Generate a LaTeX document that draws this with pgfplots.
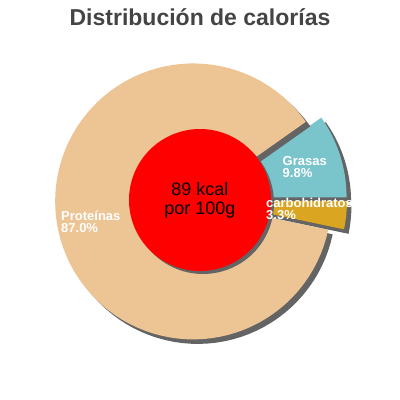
\documentclass[border=0pt]{standalone}
\usepackage{pgfplots}
\pgfplotsset{compat=1.18}
\usepackage{fontspec}
\setmainfont{Liberation Sans}

\definecolor{prot}{RGB}{237,196,148}
\definecolor{gras}{RGB}{122,196,204}
\definecolor{carb}{RGB}{218,165,32}
\definecolor{shad}{RGB}{100,100,100}
\definecolor{titlec}{RGB}{68,68,68}

% shares of the calories (%)
\def\vG{9.8}   % Grasas
\def\vP{87.0}  % Proteinas
\def\vC{3.3}   % carbohidratos
\pgfmathsetmacro\tot{\vG+\vP+\vC}
\pgfmathsetmacro\aG{\vG/\tot*360}
\pgfmathsetmacro\aP{\aG+\vP/\tot*360}
\def\R{138}
\def\so{4.5}
% slice centres, pushed out along the bisector
\pgfmathsetmacro\xG{200+9*cos(\aG/2)}
\pgfmathsetmacro\yG{200+9*sin(\aG/2)}
\pgfmathsetmacro\xP{200+7*cos((\aG+\aP)/2)}
\pgfmathsetmacro\yP{200+7*sin((\aG+\aP)/2)}
\pgfmathsetmacro\xC{200+9*cos((\aP+360)/2)}
\pgfmathsetmacro\yC{200+9*sin((\aP+360)/2)}
\pgfmathsetmacro\sxG{\xG+\so}\pgfmathsetmacro\syG{\yG-\so}
\pgfmathsetmacro\sxP{\xP+\so}\pgfmathsetmacro\syP{\yP-\so}
\pgfmathsetmacro\sxC{\xC+\so}\pgfmathsetmacro\syC{\yC-\so}

\newcommand\wedgeplot[5]{%
  \addplot[#5, draw=none, domain=#3:#4, samples=90, variable=\t]
    ({#1+\R*cos(\t)},{#2+\R*sin(\t)}) -- (axis cs:#1,#2) -- cycle;}

\tikzset{lab/.style={font=\fontsize{13}{13}\selectfont\bfseries, text=white, inner sep=0pt, anchor=base west}}

\begin{document}
\begin{tikzpicture}
\useasboundingbox (0,0) rectangle (400pt,400pt);
\begin{axis}[
    at={(0,0)}, anchor=south west,
    width=400pt, height=400pt, scale only axis,
    xmin=0, xmax=400, ymin=0, ymax=400,
    hide axis, clip=false,
]
% slices, each after its shadow
\wedgeplot{\sxG}{\syG}{0}{\aG}{fill=shad}
\wedgeplot{\xG}{\yG}{0}{\aG}{fill=gras}
\wedgeplot{\sxP}{\syP}{\aG}{\aP}{fill=shad}
\wedgeplot{\xP}{\yP}{\aG}{\aP}{fill=prot}
\wedgeplot{\sxC}{\syC}{\aP}{360}{fill=shad}
\wedgeplot{\xC}{\yC}{\aP}{360}{fill=carb}

% centre disc
\addplot[fill=shad, draw=none, domain=0:360, samples=120] ({203+71*cos(x)},{197+71*sin(x)}) -- cycle;
\addplot[fill=red, draw=none, domain=0:360, samples=120] ({200+71*cos(x)},{200+71*sin(x)}) -- cycle;

% labels
\node[lab] at (axis cs:61,179.5) {Proteínas};
\node[lab] at (axis cs:61,167.5) {87.0\%};
\node[lab] at (axis cs:282.5,234.8) {Grasas};
\node[lab] at (axis cs:282.5,222.8) {9.8\%};
\node[lab] at (axis cs:266,192.2) {carbohidratos};
\node[lab] at (axis cs:266,180.5) {3.3\%};

\node[anchor=base, inner sep=0pt, text=black, font=\fontsize{18}{18}\selectfont] at (axis cs:200,204.3) {89 kcal};
\node[anchor=base, inner sep=0pt, text=black, font=\fontsize{18}{18}\selectfont] at (axis cs:200,185) {por 100g};

\node[anchor=base, inner sep=0pt, text=titlec, font=\fontsize{23}{23}\selectfont\bfseries] at (axis cs:200,374) {Distribución de calorías};
\end{axis}
\end{tikzpicture}
\end{document}
